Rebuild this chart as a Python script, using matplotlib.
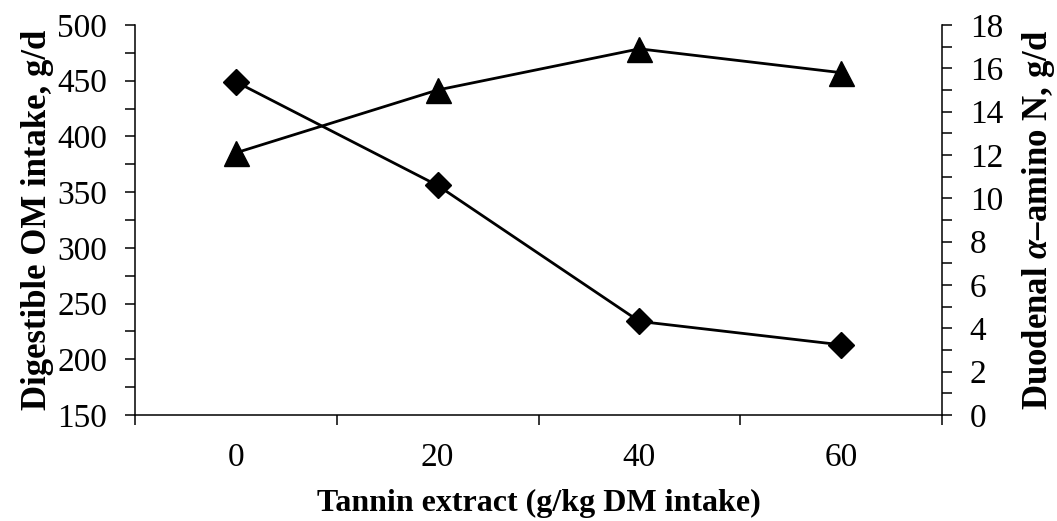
import matplotlib
matplotlib.use('Agg')
import matplotlib.pyplot as plt
from matplotlib.ticker import MultipleLocator, FixedLocator, NullFormatter

# data
tannin = ['0', '20', '40', '60']
digestible_om = [449, 356, 234, 213]        # g/d, left axis (diamonds)
amino_n = [12.1, 15.0, 16.9, 15.8]          # g/d, right axis (triangles)

plt.rcParams['font.family'] = 'Liberation Serif'
plt.rcParams['mathtext.fontset'] = 'custom'
plt.rcParams['mathtext.it'] = 'Liberation Serif:italic:bold'
plt.rcParams['mathtext.rm'] = 'Liberation Serif:bold'

fig = plt.figure(figsize=(10.57, 5.21), dpi=100)
ax = fig.add_axes([135 / 1057, 106 / 521, 807 / 1057, 390 / 521])
ax2 = ax.twinx()

x = list(range(len(tannin)))
ax.plot(x, digestible_om, color='black', lw=2.0, marker='D', markersize=13)
ax2.plot(x, amino_n, color='black', lw=2.0, marker='^', markersize=18)

# left axis
ax.set_ylim(150, 500)
ax.yaxis.set_major_locator(MultipleLocator(50))
ax.yaxis.set_minor_locator(MultipleLocator(25))
ax.tick_params(axis='y', which='both', direction='out', length=7, width=1.1,
               labelsize=24, pad=13)
ax.set_ylabel('Digestible OM intake, g/d', fontsize=25, fontweight='bold', labelpad=2)

# right axis
ax2.set_ylim(0, 18)
ax2.yaxis.set_major_locator(MultipleLocator(2))
ax2.yaxis.set_minor_locator(MultipleLocator(1))
ax2.tick_params(axis='y', which='both', direction='out', length=7, width=1.1,
                labelsize=24, pad=13)
ax2.set_ylabel(r'Duodenal $\alpha$–amino N, g/d', fontsize=25, fontweight='bold',
               labelpad=12)

# category x axis: ticks between categories, labels at centres
ax.set_xlim(-0.5, len(tannin) - 0.5)
ax.xaxis.set_major_locator(FixedLocator([i - 0.5 for i in range(len(tannin) + 1)]))
ax.xaxis.set_major_formatter(NullFormatter())
ax.xaxis.set_minor_locator(FixedLocator(x))
ax.set_xticklabels(tannin, minor=True)
ax.tick_params(axis='x', which='major', direction='out', length=7, width=1.1)
ax.tick_params(axis='x', which='minor', length=0, labelsize=24, pad=20)
ax.set_xlabel('Tannin extract (g/kg DM intake)', fontsize=23, fontweight='bold',
              labelpad=11)

for a in (ax, ax2):
    a.spines['top'].set_visible(False)
    for s in ('left', 'right', 'bottom'):
        a.spines[s].set_linewidth(1.1)
ax.spines['right'].set_visible(False)
ax2.spines['left'].set_visible(False)
ax2.spines['bottom'].set_visible(False)

fig.savefig('out.png', dpi=100)
